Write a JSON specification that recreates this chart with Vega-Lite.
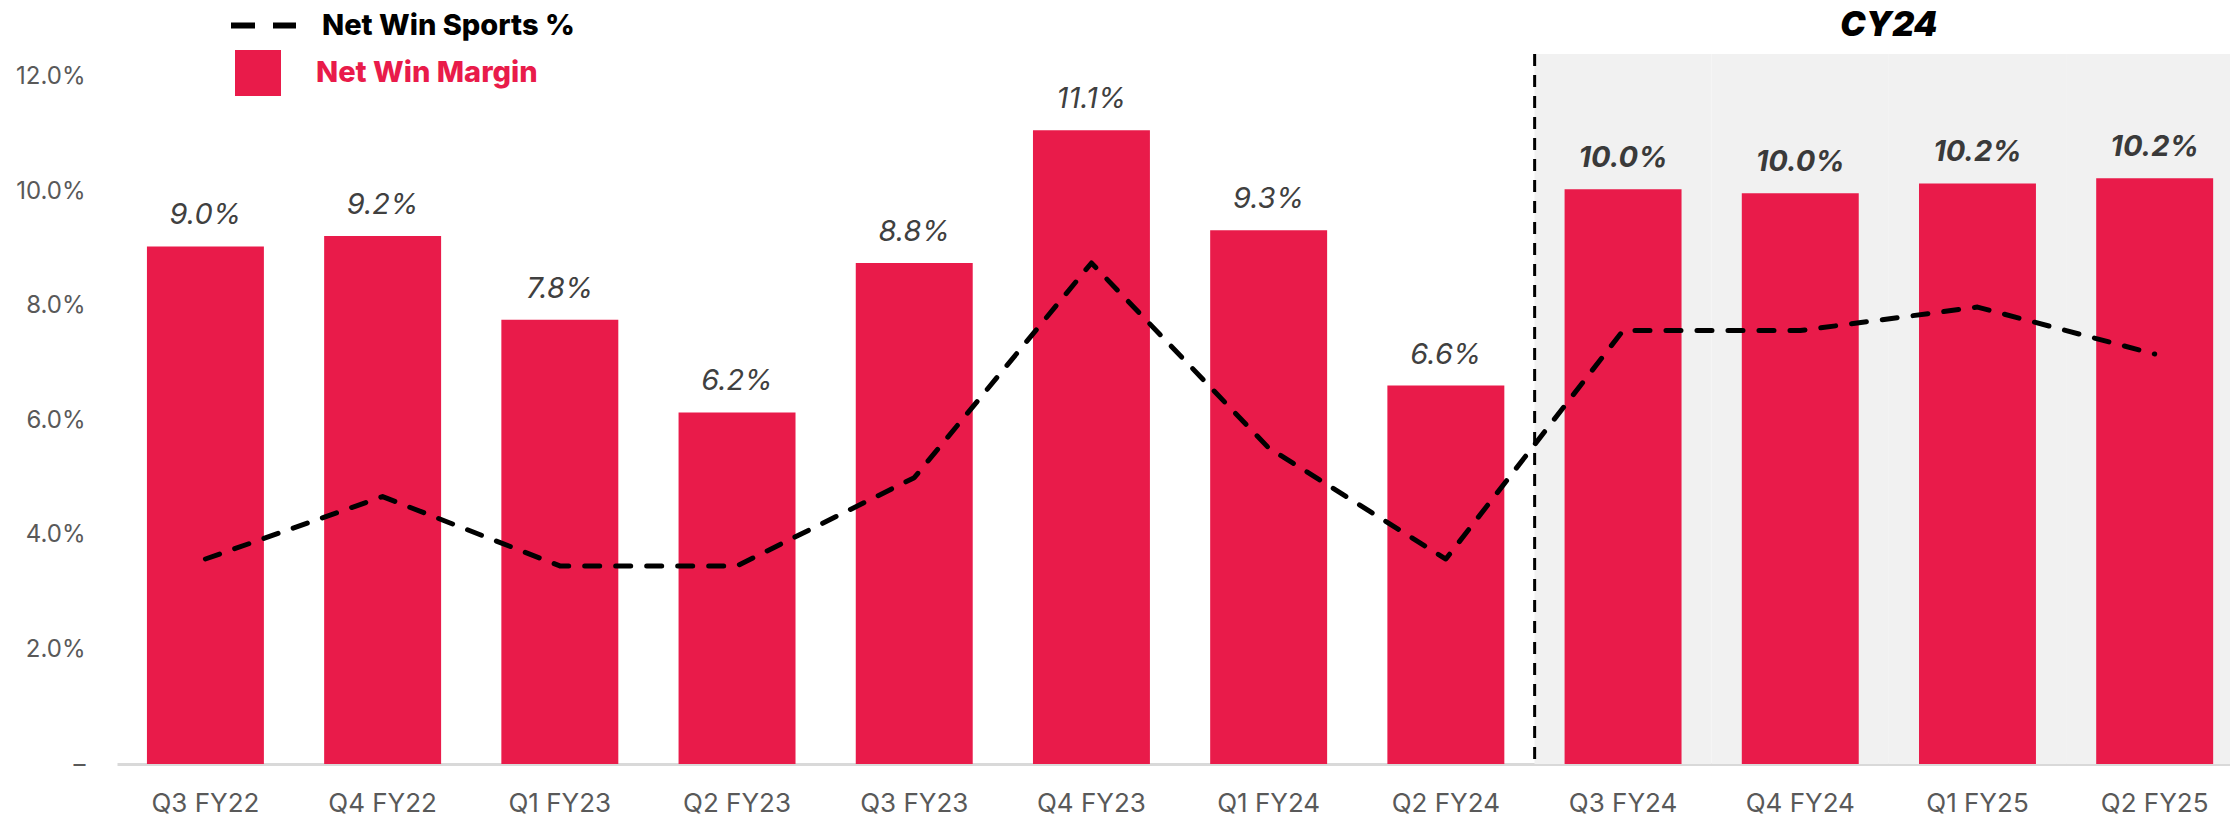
{
  "$schema": "https://vega.github.io/schema/vega-lite/v6.json",
  "width": 2113,
  "height": 710,
  "autosize": {"type": "none"},
  "padding": {"left": 117, "top": 54, "right": 0, "bottom": 59},
  "background": "#FFFFFF",
  "config": {"view": {"stroke": null}, "font": "Inter"},
  "data": {
    "values": [
      {"q": "Q3 FY22", "margin": 0.0904, "sports": 0.0358, "label": "9.0%", "period": "FY"},
      {"q": "Q4 FY22", "margin": 0.0922, "sports": 0.0467, "label": "9.2%", "period": "FY"},
      {"q": "Q1 FY23", "margin": 0.0776, "sports": 0.0346, "label": "7.8%", "period": "FY"},
      {"q": "Q2 FY23", "margin": 0.0614, "sports": 0.0346, "label": "6.2%", "period": "FY"},
      {"q": "Q3 FY23", "margin": 0.0875, "sports": 0.0500, "label": "8.8%", "period": "FY"},
      {"q": "Q4 FY23", "margin": 0.1107, "sports": 0.0875, "label": "11.1%", "period": "FY"},
      {"q": "Q1 FY24", "margin": 0.0932, "sports": 0.0552, "label": "9.3%", "period": "FY"},
      {"q": "Q2 FY24", "margin": 0.0661, "sports": 0.0358, "label": "6.6%", "period": "FY"},
      {"q": "Q3 FY24", "margin": 0.1004, "sports": 0.0757, "label": "10.0%", "period": "CY24"},
      {"q": "Q4 FY24", "margin": 0.0997, "sports": 0.0757, "label": "10.0%", "period": "CY24"},
      {"q": "Q1 FY25", "margin": 0.1014, "sports": 0.0798, "label": "10.2%", "period": "CY24"},
      {"q": "Q2 FY25", "margin": 0.1023, "sports": 0.0716, "label": "10.2%", "period": "CY24"}
    ]
  },
  "encoding": {
    "x": {
      "field": "q",
      "type": "nominal",
      "sort": null,
      "title": null,
      "scale": {
        "domain": ["Q3 FY22", "Q4 FY22", "Q1 FY23", "Q2 FY23", "Q3 FY23", "Q4 FY23", "Q1 FY24", "Q2 FY24", "Q3 FY24", "Q4 FY24", "Q1 FY25", "Q2 FY25"],
        "paddingInner": 0.34,
        "paddingOuter": 0.132,
        "align": 0.64
      },
      "axis": {
        "domain": true,
        "domainColor": "#D9D9D9",
        "domainWidth": 3,
        "ticks": false,
        "grid": false,
        "labelAngle": 0,
        "labelFont": "Inter",
        "labelFontSize": 26,
        "labelColor": "#595959",
        "labelPadding": 26
      }
    }
  },
  "layer": [
    {
      "transform": [{"filter": "datum.period == 'CY24'"}],
      "mark": {"type": "bar", "fill": "#F1F1F1", "width": {"band": 1.515}, "clip": true},
      "encoding": {
        "y": {"datum": 0.124, "type": "quantitative", "title": null}
      }
    },
    {
      "data": {"values": [{"divider": "CY24"}]},
      "mark": {"type": "rule", "color": "#000000", "strokeWidth": 3, "strokeDash": [12, 9]},
      "encoding": {
        "x": {"datum": "Q3 FY24", "bandPosition": -0.256},
        "y": {"datum": 0.124, "type": "quantitative", "title": null},
        "y2": {"datum": 0}
      }
    },
    {
      "mark": {"type": "bar"},
      "encoding": {
        "y": {
          "field": "margin",
          "type": "quantitative",
          "title": null,
          "scale": {"domain": [0, 0.124], "nice": false, "zero": true},
          "axis": {
            "values": [0, 0.02, 0.04, 0.06, 0.08, 0.1, 0.12],
            "labelExpr": "datum.value == 0 ? '–' : format(datum.value, '.1%')",
            "domain": false,
            "ticks": false,
            "grid": false,
            "labelFont": "Inter",
            "labelFontSize": 24,
            "labelColor": "#595959",
            "labelPadding": 32
          }
        },
        "color": {
          "datum": "Net Win Margin",
          "scale": {"range": ["#E91B4A"]},
          "legend": {
            "title": null,
            "orient": "none",
            "legendX": 118,
            "legendY": -4,
            "padding": 0,
            "symbolType": "square",
            "symbolSize": 2116,
            "symbolOpacity": 1,
            "symbolStrokeWidth": 0,
            "labelFont": "Inter",
            "labelFontSize": 29,
            "labelFontWeight": 800,
            "labelColor": "#E91B4A",
            "labelOffset": 35,
            "labelLimit": 700
          }
        }
      }
    },
    {
      "mark": {"type": "line", "strokeWidth": 5, "strokeDash": [15, 16], "strokeCap": "round", "strokeJoin": "round"},
      "encoding": {
        "y": {"field": "sports", "type": "quantitative", "title": null},
        "stroke": {
          "datum": "Net Win Sports %",
          "scale": {"range": ["#000000"]},
          "legend": {
            "title": null,
            "orient": "none",
            "legendX": 111,
            "legendY": -64,
            "padding": 0,
            "symbolType": "stroke",
            "symbolSize": 4225,
            "symbolStrokeWidth": 6,
            "symbolDash": [24, 18],
            "symbolStrokeColor": "#000000",
            "labelFont": "Inter",
            "labelFontSize": 29,
            "labelFontWeight": 800,
            "labelColor": "#000000",
            "labelOffset": 23,
            "labelLimit": 700
          }
        }
      }
    },
    {
      "transform": [{"filter": "datum.period != 'CY24'"}],
      "mark": {"type": "text", "font": "Inter", "fontSize": 29, "fontStyle": "italic", "color": "#404040", "baseline": "alphabetic", "dy": -22},
      "encoding": {
        "y": {"field": "margin", "type": "quantitative", "title": null},
        "text": {"field": "label"}
      }
    },
    {
      "transform": [{"filter": "datum.period == 'CY24'"}],
      "mark": {"type": "text", "font": "Inter", "fontSize": 29, "fontStyle": "italic", "fontWeight": "bold", "color": "#3A3A3A", "baseline": "alphabetic", "dy": -22},
      "encoding": {
        "y": {"field": "margin", "type": "quantitative", "title": null},
        "text": {"field": "label"}
      }
    },
    {
      "data": {"values": [{"header": "CY24"}]},
      "mark": {"type": "text", "font": "Inter", "fontSize": 34, "fontStyle": "italic", "fontWeight": 900, "color": "#000000", "baseline": "middle"},
      "encoding": {
        "x": {"datum": "Q4 FY24", "bandPosition": 1.258},
        "y": {"datum": 0.1289, "type": "quantitative", "title": null},
        "text": {"field": "header"}
      }
    }
  ]
}
